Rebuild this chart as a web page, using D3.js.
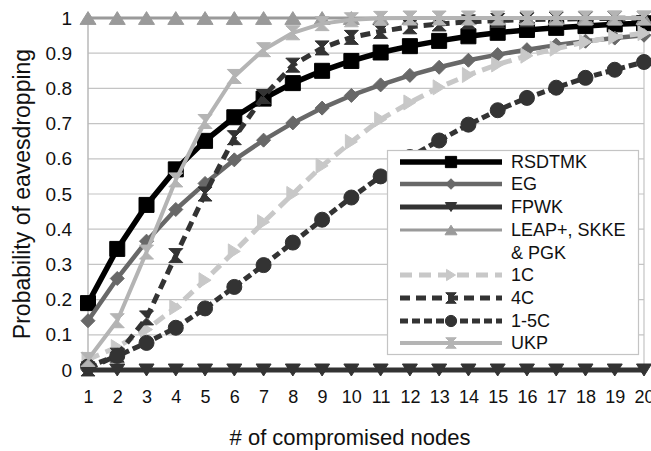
<!DOCTYPE html>
<html>
<head>
<meta charset="utf-8">
<script src="https://cdn.jsdelivr.net/npm/d3@7"></script>
<style>
  html, body { margin: 0; padding: 0; background: #fff; }
  svg { display: block; font-family: "Liberation Sans", Arial, sans-serif; }
</style>
</head>
<body>
<svg id="chart" width="651" height="451"></svg>
<script>
// Number of compromised nodes (x categories)
const nodes = [1, 2, 3, 4, 5, 6, 7, 8, 9, 10, 11, 12, 13, 14, 15, 16, 17, 18, 19, 20];
const yTicks = [0, 0.1, 0.2, 0.3, 0.4, 0.5, 0.6, 0.7, 0.8, 0.9, 1];

// Probability of eavesdropping per scheme
const rsdtmk = [0.19, 0.344, 0.469, 0.57, 0.651, 0.718, 0.771, 0.815, 0.85, 0.878, 0.902, 0.92, 0.935, 0.948, 0.958, 0.966, 0.972, 0.977, 0.982, 0.985];
const eg     = [0.14, 0.26, 0.366, 0.456, 0.53, 0.597, 0.653, 0.702, 0.744, 0.78, 0.81, 0.837, 0.86, 0.88, 0.896, 0.91, 0.923, 0.934, 0.943, 0.951];
const fpwk   = [0, 0, 0, 0, 0, 0, 0, 0, 0, 0, 0, 0, 0, 0, 0, 0, 0, 0, 0, 0];
const leap   = [1, 1, 1, 1, 1, 1, 1, 1, 1, 1, 1, 1, 1, 1, 1, 1, 1, 1, 1, 1];
const c1     = [0.03, 0.065, 0.115, 0.178, 0.255, 0.337, 0.42, 0.5, 0.58, 0.648, 0.712, 0.76, 0.803, 0.838, 0.868, 0.893, 0.913, 0.932, 0.946, 0.957];
const c4     = [0.003, 0.042, 0.148, 0.325, 0.5, 0.66, 0.777, 0.866, 0.915, 0.945, 0.962, 0.975, 0.983, 0.989, 0.993, 0.995, 0.997, 0.998, 0.999, 0.999];
const c15    = [0.01, 0.04, 0.077, 0.12, 0.175, 0.236, 0.298, 0.362, 0.427, 0.49, 0.55, 0.605, 0.652, 0.697, 0.738, 0.773, 0.802, 0.83, 0.853, 0.875];
const ukp    = [0.03, 0.14, 0.335, 0.54, 0.706, 0.834, 0.91, 0.958, 0.984, 0.995, 0.999, 1, 1, 1, 1, 1, 1, 1, 1, 1];

const seriesNames = ["RSDTMK", "EG", "FPWK", "LEAP+, SKKE\n& PGK", "1C", "4C", "1-5C", "UKP"];
const seriesValues = [rsdtmk, eg, fpwk, leap, c1, c4, c15, ukp];

const styles = [
  { color: "#000000", width: 5.5, dash: null,   marker: "square",  size: 15 },
  { color: "#686868", width: 4.5, dash: null,   marker: "diamond", size: 14 },
  { color: "#333333", width: 5,   dash: null,   marker: "down",    size: 15 },
  { color: "#9a9a9a", width: 3,   dash: null,   marker: "up",      size: 16 },
  { color: "#c8c8c8", width: 5,   dash: "12,7", marker: "right",   size: 15 },
  { color: "#333333", width: 5,   dash: "10,6", marker: "hour",    size: 14 },
  { color: "#333333", width: 5,   dash: "8,4",  marker: "circle",  size: 15 },
  { color: "#b4b4b4", width: 4,   dash: null,   marker: "hour",    size: 14 }
];

const svg = d3.select("#chart");
const margin = { left: 88, right: 7, top: 18, bottom: 81 };
const W = 651, H = 451;

const x = d3.scalePoint().domain(nodes).range([margin.left, W - margin.right]);
const y = d3.scaleLinear().domain([0, 1]).range([H - margin.bottom, margin.top]);

// Horizontal grid
svg.append("g")
  .selectAll("line")
  .data(yTicks)
  .join("line")
  .attr("x1", margin.left).attr("x2", W - margin.right)
  .attr("y1", d => y(d)).attr("y2", d => y(d))
  .attr("stroke", "#c4c4c4").attr("stroke-width", 1.2);

// Plot frame verticals
svg.append("line")
  .attr("x1", margin.left).attr("x2", margin.left)
  .attr("y1", y(1)).attr("y2", y(0))
  .attr("stroke", "#b8b8b8").attr("stroke-width", 1.5);
svg.append("line")
  .attr("x1", W - margin.right).attr("x2", W - margin.right)
  .attr("y1", y(1)).attr("y2", y(0))
  .attr("stroke", "#c4c4c4").attr("stroke-width", 1.2);

// Y axis labels
const yAxis = d3.axisLeft(y).tickValues(yTicks).tickSize(0).tickPadding(16)
  .tickFormat(d => d === 0 ? "0" : d === 1 ? "1" : d3.format(".1f")(d));
const gy = svg.append("g").attr("transform", `translate(${margin.left},0)`).call(yAxis);
gy.select(".domain").remove();
gy.selectAll("text").attr("font-size", 19).attr("fill", "#111")
  .attr("font-family", "Liberation Sans, Arial, sans-serif");

// X axis labels and ticks
const xAxis = d3.axisBottom(x).tickSize(5).tickPadding(15);
const gx = svg.append("g").attr("transform", `translate(0,${y(0)})`).call(xAxis);
gx.select(".domain").attr("stroke", "#b8b8b8");
gx.selectAll(".tick line").attr("stroke", "#b8b8b8");
gx.selectAll("text").attr("font-size", 18).attr("fill", "#111")
  .attr("font-family", "Liberation Sans, Arial, sans-serif");

// Axis titles
svg.append("text")
  .attr("x", 350).attr("y", 445)
  .attr("text-anchor", "middle")
  .attr("font-size", 22).attr("fill", "#111")
  .text("# of compromised nodes");
svg.append("text")
  .attr("transform", `translate(30,${194}) rotate(-90)`)
  .attr("text-anchor", "middle")
  .attr("font-size", 23).attr("fill", "#111")
  .text("Probability of eavesdropping");

function markerPath(type, s) {
  const h = s / 2;
  switch (type) {
    case "square": return `M${-h},${-h}H${h}V${h}H${-h}Z`;
    case "diamond": return `M0,${-h}L${h},0L0,${h}L${-h},0Z`;
    case "down": return `M${-h},${-h * 0.8}H${h}L0,${h * 0.8}Z`;
    case "up": return `M${-h},${h * 0.8}H${h}L0,${-h * 0.8}Z`;
    case "right": return `M${-h * 0.8},${-h}L${h * 0.8},0L${-h * 0.8},${h}Z`;
    case "hour": return `M${-h},${-h}H${h}L${-h},${h}H${h}Z`;
    case "circle": return `M${h},0A${h},${h} 0 1,1 ${-h},0A${h},${h} 0 1,1 ${h},0Z`;
  }
}

const line = d3.line().x((d, i) => x(nodes[i])).y(d => y(d));

// Series lines and markers
seriesValues.forEach((vals, k) => {
  const st = styles[k];
  const g = svg.append("g");
  g.append("path")
    .attr("d", line(vals))
    .attr("fill", "none")
    .attr("stroke", st.color)
    .attr("stroke-width", st.width)
    .attr("stroke-dasharray", st.dash)
    .attr("stroke-linejoin", "round");
  g.selectAll("path.m")
    .data(vals)
    .join("path")
    .attr("class", "m")
    .attr("transform", (d, i) => `translate(${x(nodes[i])},${y(d)})`)
    .attr("d", markerPath(st.marker, st.size))
    .attr("fill", st.color)
    .attr("stroke", st.color)
    .attr("stroke-width", 1)
    .attr("stroke-linejoin", "miter");
});

// Legend
const lg = svg.append("g");
lg.append("rect")
  .attr("x", 387.5).attr("y", 150.5).attr("width", 251).attr("height", 204)
  .attr("fill", "#fff").attr("stroke", "#c4c4c4").attr("stroke-width", 1.2);

const rowY = [162, 184, 207, 230, 275, 298, 321, 343];
seriesNames.forEach((name, k) => {
  const st = styles[k];
  const ry = rowY[k];
  lg.append("line")
    .attr("x1", 400).attr("x2", 502).attr("y1", ry).attr("y2", ry)
    .attr("stroke", st.color).attr("stroke-width", st.width)
    .attr("stroke-dasharray", st.dash);
  lg.append("path")
    .attr("transform", `translate(451,${ry})`)
    .attr("d", markerPath(st.marker, st.size * 0.75))
    .attr("fill", st.color).attr("stroke", st.color).attr("stroke-width", 1);
  const lines = name.split("\n");
  lines.forEach((t, j) => {
    lg.append("text")
      .attr("x", 511).attr("y", ry + j * 22.5)
      .attr("dy", "0.35em")
      .attr("font-size", 18).attr("fill", "#111")
      .text(t);
  });
});
</script>
</body>
</html>
